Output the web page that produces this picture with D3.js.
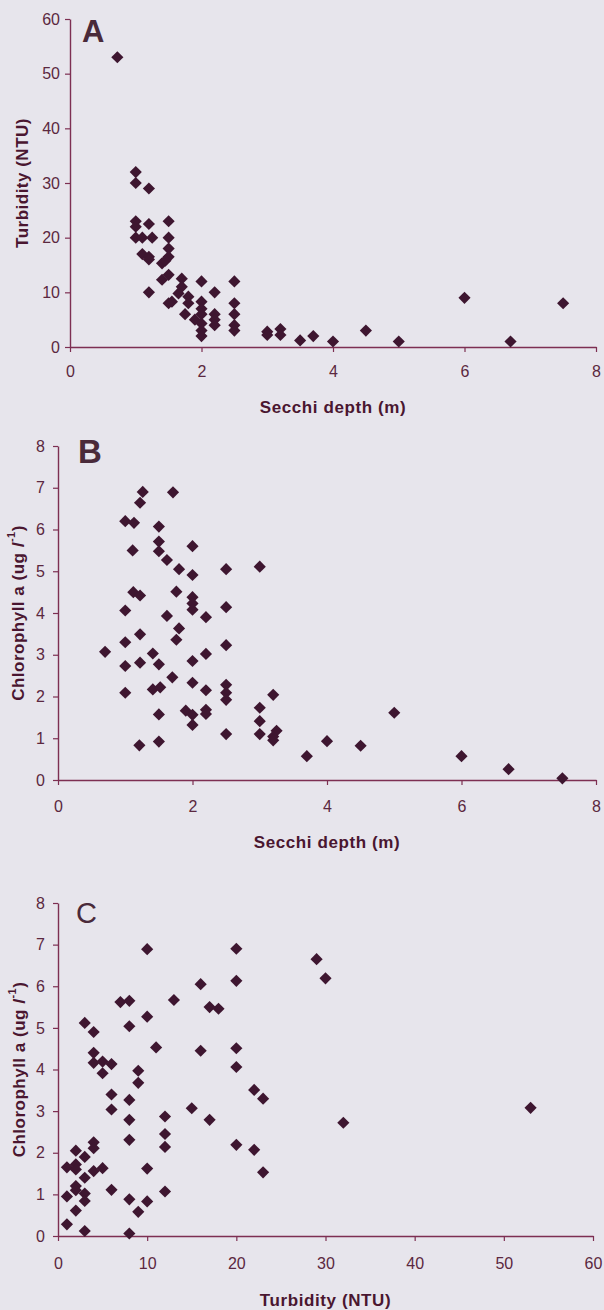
<!DOCTYPE html>
<html>
<head>
<meta charset="utf-8">
<script src="https://cdn.jsdelivr.net/npm/d3@7"></script>
<style>
  html, body { margin: 0; padding: 0; background: #e7e5ec; }
  svg { display: block; }
  text { font-family: "Liberation Sans", Arial, sans-serif; }
</style>
</head>
<body>
<svg id="chart" width="604" height="1310"></svg>
<script>
// ---------------- DATA ----------------
// Panel A: Secchi depth (m) vs Turbidity (NTU)
const secchiA = [0.72, 1.0, 1.0, 1.2, 1.0, 1.0, 1.2, 1.0, 1.1, 1.25, 1.5, 1.5, 1.5, 1.5,
  1.1, 1.2, 1.2, 1.4, 1.45, 1.5, 1.4, 1.2, 1.7, 1.7, 1.65, 1.55, 1.5, 1.8, 1.8, 1.75,
  2.0, 2.0, 2.0, 2.0, 1.9, 2.0, 2.0, 2.0, 2.2, 2.2, 2.2, 2.2,
  2.5, 2.5, 2.5, 2.5, 2.5, 3.0, 3.0, 3.2, 3.2, 3.5, 3.7, 4.0, 4.5, 5.0, 6.0, 6.7, 7.5];
const turbidityA = [53, 32, 30, 29, 23, 22, 22.5, 20, 20, 20, 23, 20, 18, 16.5,
  17, 16.5, 16, 15.3, 15.8, 13.2, 12.3, 10, 12.5, 11, 9.8, 8.3, 8, 9.2, 8, 6,
  12, 8.3, 7, 6, 5, 4.3, 3, 2, 10, 6, 5, 4,
  12, 8, 6, 4, 3, 2.8, 2.2, 3.3, 2.2, 1.2, 2, 1, 3, 1, 9, 1, 8];

// Panel B: Secchi depth (m) vs Chlorophyll a
const secchiB = [0.7,
  1.26, 1.22, 1.0, 1.13, 1.11, 1.12, 1.22, 1.0, 1.22, 1.0, 1.22, 1.0, 1.0, 1.21,
  1.5, 1.5, 1.41, 1.52, 1.41, 1.5, 1.7, 1.5, 1.5, 1.5, 1.62, 1.71, 1.8, 1.76, 1.62, 1.8, 1.76,
  2.0, 2.0, 2.0, 2.0, 2.0, 2.2, 2.0, 2.2, 2.0, 2.2, 1.9, 2.0, 2.0, 2.2, 2.2,
  2.5, 2.5, 2.5, 2.5, 2.5, 2.5, 2.5,
  3.0, 3.0, 3.0, 3.0, 3.2, 3.25, 3.2, 3.2,
  3.7, 4.0, 4.5, 5.0, 6.0, 6.7, 7.5];
const chlB = [3.07,
  6.9, 6.64, 6.2, 6.16, 5.5, 4.5, 4.42, 4.06, 3.49, 3.3, 2.81, 2.73, 2.09, 0.83,
  0.92, 1.57, 2.17, 2.22, 3.03, 2.77, 2.46, 6.07, 5.71, 5.48, 5.27, 6.89, 5.05, 4.51, 3.93, 3.63, 3.36,
  5.6, 4.91, 4.38, 4.23, 4.08, 3.9, 2.85, 3.02, 2.33, 2.15, 1.66, 1.56, 1.32, 1.68, 1.58,
  5.05, 4.14, 3.23, 2.28, 2.09, 1.92, 1.1,
  5.11, 1.73, 1.41, 1.1, 2.04, 1.18, 1.04, 0.95,
  0.57, 0.93, 0.82, 1.61, 0.57, 0.26, 0.04];

// Panel C: Turbidity (NTU) vs Chlorophyll a
const turbC = [10, 20, 20, 16, 13, 7, 8, 8, 10, 17, 18, 3, 4,
  4, 4, 5, 5, 6, 11, 9, 9, 16, 20, 20, 22, 23,
  6, 6, 8, 8, 8, 12, 12, 12, 15, 17, 20, 22, 23,
  10, 12, 10, 9, 8, 8, 6, 5, 4, 4, 4,
  1, 2, 2, 2, 3, 3, 2, 2, 1, 3, 3, 2, 1, 3,
  29, 30, 32, 53];
const chlC = [6.89, 6.9, 6.13, 6.05, 5.67, 5.62, 5.65, 5.04, 5.27, 5.5, 5.46, 5.12, 4.9,
  4.4, 4.16, 4.19, 3.91, 4.13, 4.53, 3.97, 3.68, 4.45, 4.51, 4.06, 3.51, 3.3,
  3.4, 3.04, 3.27, 2.79, 2.31, 2.87, 2.45, 2.14, 3.07, 2.79, 2.19, 2.07, 1.53,
  1.62, 1.07, 0.83, 0.58, 0.88, 0.06, 1.11, 1.63, 2.25, 2.11, 1.56,
  1.65, 2.05, 1.72, 1.6, 1.9, 1.4, 1.2, 1.1, 0.95, 1.02, 0.84, 0.61, 0.28, 0.12,
  6.65, 6.19, 2.72, 3.08];

// Tick values
const secchiTicks = [0, 2, 4, 6, 8];
const turbidityTicks = [0, 10, 20, 30, 40, 50, 60];
const chlTicks = [0, 1, 2, 3, 4, 5, 6, 7, 8];

// Labels
const panelLetters = ["A", "B", "C"];
const xTitles = ["Secchi depth (m)", "Secchi depth (m)", "Turbidity (NTU)"];

// ---------------- DRAWING ----------------
const svg = d3.select("#chart");
const AXIS = "#7d2f52";
const TICKTXT = "#5b2840";
const TITLE = "#4a1630";
const MARK = "#3e1630";

const panels = [
  { xs: secchiA, ys: turbidityA, xDom: [0, 8], yDom: [0, 60], xT: secchiTicks, yT: turbidityTicks,
    left: 70, right: 596, top: 19, bottom: 347, ytx: 22, xPad: 14, yPad: 5, xtOff: 66,
    letter: { x: 82, y: 42, size: 31, w: "bold" }, yTitle: "turb" },
  { xs: secchiB, ys: chlB, xDom: [0, 8], yDom: [0, 8], xT: secchiTicks, yT: chlTicks,
    left: 58, right: 596, top: 446, bottom: 780, ytx: 18, xPad: 16, yPad: 8, xtOff: 68,
    letter: { x: 78, y: 463, size: 33, w: "bold" }, yTitle: "chl" },
  { xs: turbC, ys: chlC, xDom: [0, 60], yDom: [0, 8], xT: turbidityTicks, yT: chlTicks,
    left: 58, right: 593, top: 903, bottom: 1236, ytx: 19, xPad: 17, yPad: 8, xtOff: 70,
    letter: { x: 76, y: 923, size: 29, w: "normal" }, yTitle: "chl" }
];

const diamond = d3.symbol().type(d3.symbolSquare).size(74);

panels.forEach((p, i) => {
  const x = d3.scaleLinear().domain(p.xDom).range([p.left, p.right]);
  const y = d3.scaleLinear().domain(p.yDom).range([p.bottom, p.top]);
  const g = svg.append("g");

  // x axis
  const xa = g.append("g").attr("transform", `translate(0,${p.bottom})`)
    .call(d3.axisBottom(x).tickValues(p.xT).tickSize(5).tickSizeOuter(0).tickPadding(p.xPad));
  // y axis
  const ya = g.append("g").attr("transform", `translate(${p.left},0)`)
    .call(d3.axisLeft(y).tickValues(p.yT).tickSize(5).tickSizeOuter(0).tickPadding(p.yPad));
  [xa, ya].forEach(a => {
    a.select(".domain").attr("stroke", AXIS).attr("stroke-width", 1.4);
    a.selectAll(".tick line").attr("stroke", AXIS).attr("stroke-width", 1.2);
    a.selectAll(".tick text").attr("fill", TICKTXT)
      .style("font-family", "'Liberation Sans', Arial, sans-serif")
      .style("font-size", "16px");
  });

  // points
  g.append("g").selectAll("path")
    .data(p.xs.map((v, k) => [v, p.ys[k]]))
    .join("path")
    .attr("d", diamond)
    .attr("transform", d => `translate(${x(d[0])},${y(d[1])}) rotate(45)`)
    .attr("fill", MARK);

  // x title
  g.append("text")
    .attr("x", (p.left + p.right) / 2)
    .attr("y", p.bottom + p.xtOff)
    .attr("text-anchor", "middle")
    .attr("fill", TITLE)
    .style("font-size", "17px").style("font-weight", "bold")
    .style("letter-spacing", "0.6px")
    .text(xTitles[i]);

  // y title
  const yt = g.append("text")
    .attr("transform", `translate(${p.ytx},${(p.top + p.bottom) / 2}) rotate(-90)`)
    .attr("text-anchor", "middle")
    .attr("dominant-baseline", "central")
    .attr("fill", TITLE)
    .style("font-size", "17px").style("font-weight", "bold")
    .style("letter-spacing", "0.5px");
  if (p.yTitle === "turb") {
    yt.text("Turbidity (NTU)");
  } else {
    yt.append("tspan").text("Chlorophyll a (ug ");
    yt.append("tspan").style("font-style", "italic").text("l");
    yt.append("tspan").attr("dy", -7).style("font-size", "11px").text("-1");
    yt.append("tspan").attr("dy", 7).text(")");
  }

  // panel letter
  g.append("text")
    .attr("x", p.letter.x).attr("y", p.letter.y)
    .attr("fill", "#4a2a3a")
    .style("font-size", p.letter.size + "px")
    .style("font-weight", p.letter.w)
    .text(panelLetters[i]);
});
</script>
</body>
</html>
